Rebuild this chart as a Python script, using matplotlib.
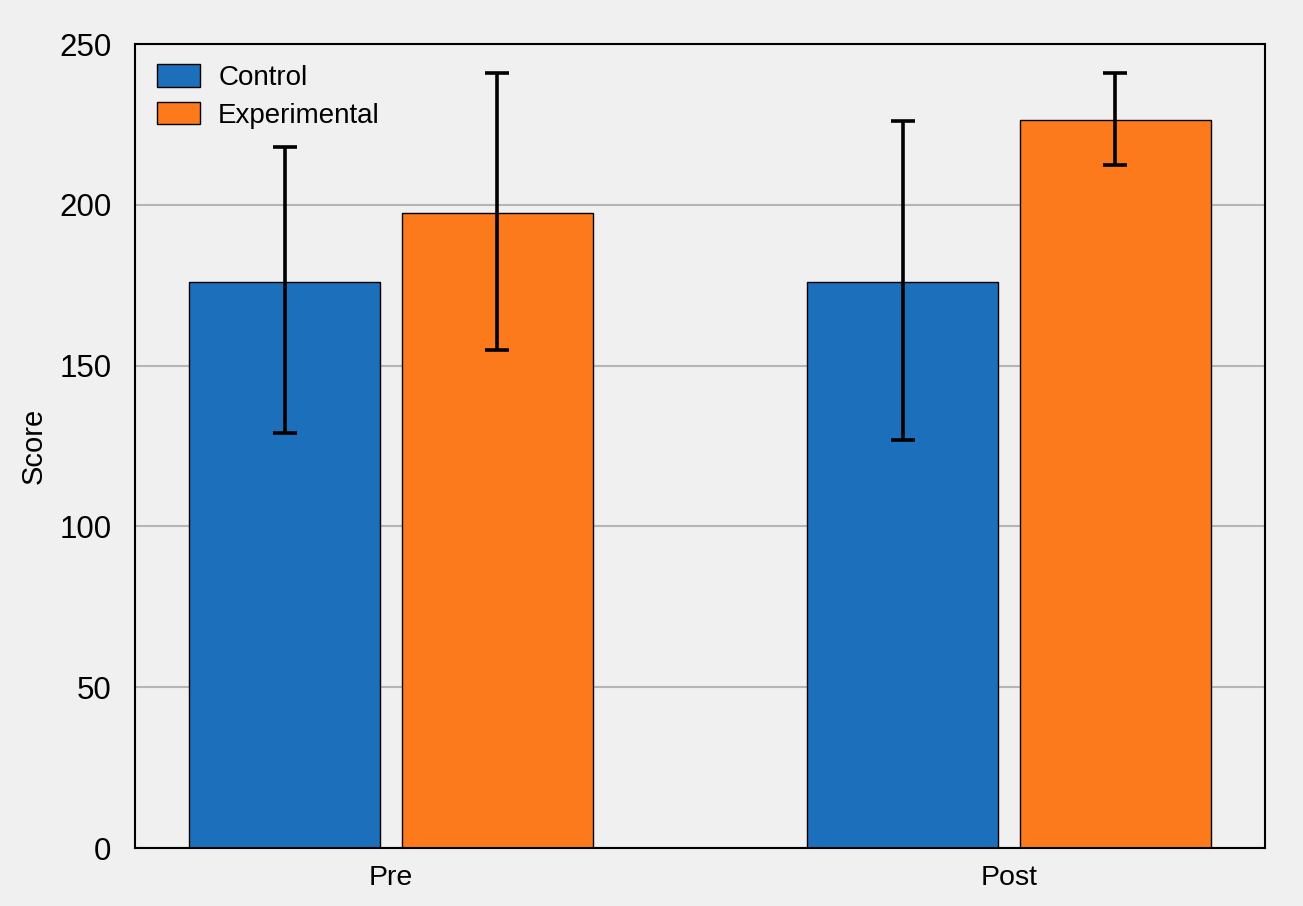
import numpy as np
import matplotlib
matplotlib.use("Agg")
import matplotlib.pyplot as plt

plt.rcParams['font.family'] = ['Liberation Sans', 'DejaVu Sans']

# ==============================
# DATA
# ==============================
phases = ["Pre", "Post"]
control_mean = [176, 176]
control_err_low = [47, 49]
control_err_high = [42, 50]
exp_mean = [197.5, 226.5]
exp_err_low = [42.5, 14]
exp_err_high = [43.5, 14.5]
y_ticks = [0, 50, 100, 150, 200, 250]

# ==============================
# PLOT
# ==============================
bg = "#f0f0f0"
fig = plt.figure(figsize=(13.03, 9.06), dpi=100, facecolor=bg)
ax = fig.add_axes([135 / 1303, 1 - 848 / 906, 1130 / 1303, 804 / 906])
ax.set_facecolor(bg)

x = np.arange(len(phases))
w = 0.309
off = 0.172

ax.bar(x - off, control_mean, w, color="#1c6fba", edgecolor="black", linewidth=1.0,
       label="Control", zorder=2)
ax.bar(x + off, exp_mean, w, color="#fd7a1c", edgecolor="black", linewidth=1.0,
       label="Experimental", zorder=2)

ax.errorbar(x - off, control_mean, yerr=[control_err_low, control_err_high], fmt="none",
            ecolor="black", elinewidth=2.6, capsize=8.5, capthick=2.6, zorder=3)
ax.errorbar(x + off, exp_mean, yerr=[exp_err_low, exp_err_high], fmt="none",
            ecolor="black", elinewidth=2.6, capsize=8.5, capthick=2.6, zorder=3)

ax.set_xlim(-0.414, 1.414)
ax.set_ylim(0, 250)
ax.set_yticks(y_ticks)
ax.set_xticks(x)
ax.set_xticklabels(phases, fontsize=20.5)
ax.tick_params(axis="y", labelsize=22.5, length=0, pad=17)
ax.tick_params(axis="x", length=0, pad=12)
ax.set_ylabel("Score", fontsize=21, labelpad=8)

ax.yaxis.grid(True, color="#b5b5b5", linewidth=1.5, zorder=0)
ax.set_axisbelow(True)
for s in ax.spines.values():
    s.set_linewidth(1.5)
    s.set_color("black")

ax.legend(loc="upper left", bbox_to_anchor=(0.0195, 0.975), frameon=False, fontsize=20,
          handlelength=1.55, handleheight=0.88, handletextpad=0.65, labelspacing=0.38,
          borderpad=0, borderaxespad=0)

fig.savefig("out.png", dpi=100, facecolor=bg)
